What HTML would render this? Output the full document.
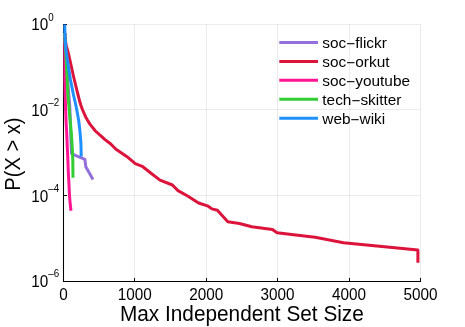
<!DOCTYPE html>
<html><head><meta charset="utf-8">
<style>
html,body{margin:0;padding:0;background:#fff;}
body{width:465px;height:327px;overflow:hidden;}
svg{display:block;will-change:transform;}
text{font-family:"Liberation Sans",sans-serif;fill:#000;}
.tk{font-size:15.3px;}
.sup{font-size:9.8px;}
.lg{font-size:15.4px;}
.gd{font-size:20.8px;}
.gdy{font-size:20.1px;}
.grid line{stroke:#000;stroke-opacity:0.075;stroke-width:1;}
.ax line{stroke:#000;stroke-width:1.05;}
.cv path{fill:none;stroke-width:3.0;stroke-linejoin:round;stroke-linecap:butt;}
.lgl line{stroke-width:3.0;}
</style></head><body>
<svg width="465" height="327" viewBox="0 0 465 327">
<rect width="465" height="327" fill="#fff"/>
<g class="grid">
<line x1="63.5" y1="24.0" x2="63.5" y2="281.70"/>
<line x1="134.5" y1="24.0" x2="134.5" y2="281.70"/>
<line x1="206.5" y1="24.0" x2="206.5" y2="281.70"/>
<line x1="277.5" y1="24.0" x2="277.5" y2="281.70"/>
<line x1="349.5" y1="24.0" x2="349.5" y2="281.70"/>
<line x1="420.5" y1="24.0" x2="420.5" y2="281.70"/>
<line x1="63.0" y1="24.5" x2="421.00" y2="24.5"/>
<line x1="63.0" y1="109.5" x2="421.00" y2="109.5"/>
<line x1="63.0" y1="195.5" x2="421.00" y2="195.5"/>
<line x1="63.0" y1="281.5" x2="421.00" y2="281.5"/>
</g>
<g class="ax">
<line x1="62.95" y1="281.5" x2="421.00" y2="281.5"/>
<line x1="63.5" y1="23.9" x2="63.5" y2="282.05"/>
<line x1="63.5" y1="281.5" x2="63.5" y2="277.9"/>
<line x1="134.5" y1="281.5" x2="134.5" y2="277.9"/>
<line x1="206.5" y1="281.5" x2="206.5" y2="277.9"/>
<line x1="277.5" y1="281.5" x2="277.5" y2="277.9"/>
<line x1="349.5" y1="281.5" x2="349.5" y2="277.9"/>
<line x1="420.5" y1="281.5" x2="420.5" y2="277.9"/>
<line x1="63.5" y1="24.5" x2="67.0" y2="24.5"/>
<line x1="63.5" y1="109.5" x2="67.0" y2="109.5"/>
<line x1="63.5" y1="195.5" x2="67.0" y2="195.5"/>
<line x1="63.5" y1="281.5" x2="67.0" y2="281.5"/>
</g>
<g class="cv">
<path stroke="#9370DB" d="M64.8,33 L65.2,45 L65.8,55 L67.3,75 L68.6,92 L69.7,105 L70.3,120 L70.7,135 L71.2,146 L71.5,153.4 L74.2,154.8 L84.9,159.3 L85.8,166.8 L93,179.5"/>
<path stroke="#DC143C" d="M64.8,33 L65.3,40 L66.3,46 L67.5,50 L68.8,55 L71,65 L73.2,75 L74.4,80 L76.8,90 L78.1,95 L79.3,100 L80.8,105 L82.6,110 L85.8,117.2 L87.4,120 L89.9,124.1 L95.4,131 L102.3,137.2 L105,139.6 L110.5,143.8 L116,149.3 L127,156.7 L135.3,163.6 L142.2,166.3 L150.4,172.7 L160,180.1 L172.4,185 L178,190.6 L187.6,196 L198.6,203 L208.2,206.2 L211.9,208.9 L217.4,210.3 L227.8,221.8 L239.4,223.5 L251.8,226.8 L272.4,229.5 L277.1,232.8 L295.8,235 L315.1,237.3 L343.5,242.7 L417.9,250.1 L417.9,262.8"/>
<path stroke="#FF1493" d="M64.8,33 L64.8,60 L64.85,80 L65.15,95 L65.5,105 L66,120 L66.7,133 L67.3,147 L67.8,158 L68.3,172 L69,185 L69.5,195.6 L70.2,204 L71,210.7"/>
<path stroke="#32CD32" d="M64.8,33 L65.2,43 L65.9,55 L66.6,68 L67.2,80 L67.9,95 L68.8,105 L70.1,120 L71.4,134 L72.3,148 L72.8,160 L73,177.7"/>
<path stroke="#1E90FF" d="M64.8,24.4 L64.9,35 L65.4,43 L66.1,51 L67.4,60 L68.9,70 L70.5,80 L72,87.5 L73.5,95 L75.8,105 L76.8,110 L78.6,120 L79.6,128 L80.3,135 L81,145 L81.2,156.6"/>
</g>
<g class="tk" text-anchor="middle">
<text transform="translate(63.40,300.2) scale(1,1.02)">0</text>
<text transform="translate(134.80,300.2) scale(1,1.02)">1000</text>
<text transform="translate(206.20,300.2) scale(1,1.02)">2000</text>
<text transform="translate(277.60,300.2) scale(1,1.02)">3000</text>
<text transform="translate(349.00,300.2) scale(1,1.02)">4000</text>
<text transform="translate(420.40,300.2) scale(1,1.02)">5000</text>
</g>
<g class="tk">
<text transform="translate(31.2,30.40) scale(1,1.02)">10</text>
<text class="sup" transform="translate(48.3,20.50) scale(1,1.03)">0</text>
<text transform="translate(31.2,116.00) scale(1,1.02)">10</text>
<text class="sup" transform="translate(48.3,106.10) scale(1,1.03)">–2</text>
<text transform="translate(31.2,201.60) scale(1,1.02)">10</text>
<text class="sup" transform="translate(48.3,191.70) scale(1,1.03)">–4</text>
<text transform="translate(31.2,287.20) scale(1,1.02)">10</text>
<text class="sup" transform="translate(48.3,277.30) scale(1,1.03)">–6</text>
</g>
<text class="gd" transform="translate(241.9,320.6) scale(1,1.06)" text-anchor="middle">Max Independent Set Size</text>
<text class="gdy" transform="translate(19.9,154.1) rotate(-90) scale(1,1.07)" text-anchor="middle">P(X &gt; x)</text>
<g class="lgl">
<line x1="279.3" y1="42.40" x2="318" y2="42.40" stroke="#9370DB"/>
<line x1="279.3" y1="61.38" x2="318" y2="61.38" stroke="#DC143C"/>
<line x1="279.3" y1="80.36" x2="318" y2="80.36" stroke="#FF1493"/>
<line x1="279.3" y1="99.34" x2="318" y2="99.34" stroke="#32CD32"/>
<line x1="279.3" y1="118.32" x2="318" y2="118.32" stroke="#1E90FF"/>
</g><g class="lg">
<text x="322.3" y="48.10">soc<tspan dy="1.3">−</tspan><tspan dy="-1.3">flickr</tspan></text>
<text x="322.3" y="67.08">soc<tspan dy="1.3">−</tspan><tspan dy="-1.3">orkut</tspan></text>
<text x="322.3" y="86.06">soc<tspan dy="1.3">−</tspan><tspan dy="-1.3">youtube</tspan></text>
<text x="322.3" y="105.04">tech<tspan dy="1.3">−</tspan><tspan dy="-1.3">skitter</tspan></text>
<text x="322.3" y="124.02">web<tspan dy="1.3">−</tspan><tspan dy="-1.3">wiki</tspan></text>
</g>
</svg>
</body></html>
